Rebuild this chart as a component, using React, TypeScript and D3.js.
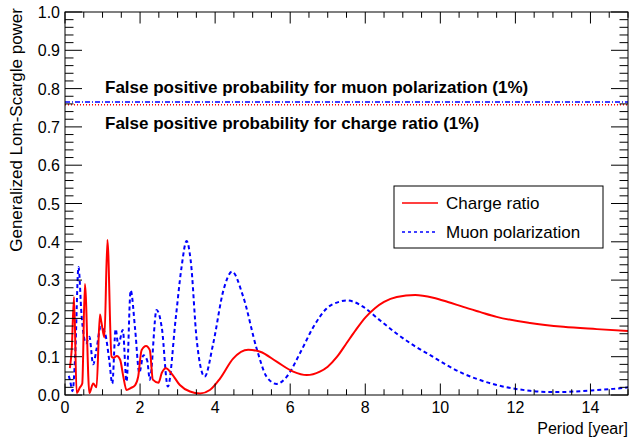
import React from "react";
import * as d3 from "d3";

// ---- data (period in years, generalized Lomb-Scargle power) ----
const chargePeriod = [0.13, 0.18, 0.24, 0.31, 0.4, 0.46, 0.53, 0.65, 0.75, 0.84, 0.93, 0.97, 1.05, 1.13, 1.24, 1.29, 1.38, 1.47, 1.55, 1.64, 1.75, 1.87, 1.95, 2.04, 2.16, 2.26, 2.34, 2.49, 2.58, 2.69, 2.84, 3.06, 3.33, 3.6, 3.86, 4.13, 4.48, 4.88, 5.2, 5.64, 6.08, 6.44, 6.79, 7.0, 7.25, 7.5, 7.75, 8.0, 8.25, 8.5, 8.84, 9.33, 9.81, 10.2, 10.61, 11.05, 11.5, 12.39, 13.28, 14.17, 15.0];
const chargePower = [0.07, 0.12, 0.256, 0.005, 0.02, 0.03, 0.29, 0.005, 0.03, 0.02, 0.21, 0.19, 0.15, 0.405, 0.1, 0.097, 0.102, 0.092, 0.05, 0.013, 0.018, 0.026, 0.048, 0.117, 0.128, 0.117, 0.04, 0.032, 0.058, 0.07, 0.056, 0.026, 0.009, 0.004, 0.013, 0.043, 0.095, 0.118, 0.113, 0.087, 0.061, 0.052, 0.061, 0.074, 0.1, 0.135, 0.17, 0.202, 0.226, 0.243, 0.256, 0.261, 0.254, 0.243, 0.23, 0.217, 0.204, 0.188, 0.178, 0.172, 0.167];

const muonPeriod = [0.1, 0.13, 0.2, 0.27, 0.36, 0.44, 0.56, 0.65, 0.75, 0.84, 0.95, 1.07, 1.18, 1.26, 1.35, 1.42, 1.54, 1.64, 1.75, 1.87, 1.98, 2.09, 2.19, 2.26, 2.44, 2.58, 2.74, 2.95, 3.1, 3.24, 3.35, 3.51, 3.72, 3.95, 4.22, 4.45, 4.75, 5.11, 5.37, 5.64, 5.91, 6.26, 6.62, 6.97, 7.33, 7.5, 7.7, 7.95, 8.39, 8.84, 9.28, 9.73, 10.17, 10.61, 11.06, 11.5, 11.95, 12.39, 12.83, 13.28, 13.72, 14.17, 14.61, 15.0];
const muonPower = [0.05, 0.04, 0.01, 0.1, 0.334, 0.21, 0.135, 0.152, 0.08, 0.12, 0.178, 0.16, 0.09, 0.03, 0.172, 0.13, 0.17, 0.035, 0.273, 0.17, 0.058, 0.104, 0.09, 0.04, 0.222, 0.175, 0.022, 0.2, 0.33, 0.402, 0.35, 0.143, 0.048, 0.135, 0.273, 0.322, 0.256, 0.12, 0.048, 0.029, 0.048, 0.109, 0.178, 0.226, 0.244, 0.247, 0.243, 0.23, 0.195, 0.16, 0.13, 0.104, 0.078, 0.056, 0.039, 0.026, 0.017, 0.011, 0.008, 0.008, 0.01, 0.013, 0.016, 0.02];

const fppMuon = 0.765;
const fppCharge = 0.758;

const xMajorTicks = [0, 2, 4, 6, 8, 10, 12, 14];
const yMajorTicks = [0.0, 0.1, 0.2, 0.3, 0.4, 0.5, 0.6, 0.7, 0.8, 0.9, 1.0];

const seriesNames = ["Charge ratio", "Muon polarization"];
const fppLabels = [
  "False positive probability for muon polarization (1%)",
  "False positive probability for charge ratio (1%)",
];
const xTitle = "Period [year]";
const yTitle = "Generalized Lom-Scargle power";

const W = 630;
const H = 441;
const L = 65;
const R = 628;
const T = 12;
const B = 395;

export default function App() {
  const x = d3.scaleLinear().domain([0, 15]).range([L, R]);
  const y = d3.scaleLinear().domain([0, 1]).range([B, T]);

  const line = d3
    .line<[number, number]>()
    .x((d) => x(d[0]))
    .y((d) => y(d[1]))
    .curve(d3.curveMonotoneX);

  const charge = chargePeriod.map((p, i) => [p, chargePower[i]] as [number, number]);
  const muon = muonPeriod.map((p, i) => [p, muonPower[i]] as [number, number]);

  const xMinor = d3.range(0, 15.001, 0.5);
  const yMinor = d3.range(0, 1.0001, 0.02);
  const font = "'Liberation Sans', Arial, Helvetica, sans-serif";
  const xMajLen = 11.5;
  const yMajLen = 17;

  return (
    <svg
      width={W}
      height={H}
      style={{ position: "absolute", left: 0, top: 0, background: "#fff" }}
      fontFamily={font}
    >
      <rect x={0} y={0} width={W} height={H} fill="#fff" />
      <defs>
        <clipPath id="frameClip">
          <rect x={L} y={T} width={R - L} height={B - T} />
        </clipPath>
      </defs>

      {/* FPP lines */}
      <line
        x1={x(0)}
        x2={x(15)}
        y1={y(fppMuon)}
        y2={y(fppMuon)}
        stroke="#0000ff"
        strokeWidth={1.5}
        strokeDasharray="5,2,1,2"
      />
      <line
        x1={x(0)}
        x2={x(15)}
        y1={y(fppCharge)}
        y2={y(fppCharge)}
        stroke="#ff0000"
        strokeWidth={1.5}
        strokeDasharray="1,2"
      />
      <text x={105} y={93} fontSize={17} fontWeight="bold" fill="#000">
        {fppLabels[0]}
      </text>
      <text x={105} y={128.5} fontSize={17} fontWeight="bold" fill="#000">
        {fppLabels[1]}
      </text>

      {/* curves */}
      <g clipPath="url(#frameClip)">
        <path d={line(muon) || ""} fill="none" stroke="#0000ff" strokeWidth={2} strokeDasharray="4,3" />
        <path d={line(charge) || ""} fill="none" stroke="#ff0000" strokeWidth={2} />
      </g>

      {/* frame */}
      <rect x={L} y={T} width={R - L} height={B - T} fill="none" stroke="#000" strokeWidth={1} />

      {/* x ticks */}
      {xMinor.map((v) => {
        const major = Math.abs(v / 2 - Math.round(v / 2)) < 1e-6;
        const len = major ? xMajLen : xMajLen / 2;
        return (
          <g key={"xt" + v}>
            <line x1={x(v)} x2={x(v)} y1={B} y2={B - len} stroke="#000" />
            <line x1={x(v)} x2={x(v)} y1={T} y2={T + len} stroke="#000" />
          </g>
        );
      })}
      {/* y ticks */}
      {yMinor.map((v, i) => {
        const major = i % 5 === 0;
        const len = major ? yMajLen : yMajLen / 2;
        return (
          <g key={"yt" + i}>
            <line x1={L} x2={L + len} y1={y(v)} y2={y(v)} stroke="#000" />
            <line x1={R} x2={R - len} y1={y(v)} y2={y(v)} stroke="#000" />
          </g>
        );
      })}

      {/* tick labels */}
      {xMajorTicks.map((v) => (
        <text key={"xl" + v} x={x(v)} y={413} fontSize={16} textAnchor="middle" fill="#000">
          {v}
        </text>
      ))}
      {yMajorTicks.map((v) => (
        <text key={"yl" + v} x={60} y={y(v) + 6} fontSize={16} textAnchor="end" fill="#000">
          {v.toFixed(1)}
        </text>
      ))}

      {/* axis titles */}
      <text x={R} y={434} fontSize={16} textAnchor="end" fill="#000">
        {xTitle}
      </text>
      <text
        transform={`translate(22, ${T - 4}) rotate(-90)`}
        fontSize={17}
        textAnchor="end"
        fill="#000"
      >
        {yTitle}
      </text>

      {/* legend */}
      <rect x={394} y={186} width={209} height={62} fill="#fff" stroke="#000" strokeWidth={1} />
      <line x1={402} x2={438} y1={203} y2={203} stroke="#ff0000" strokeWidth={1.5} />
      <text x={446} y={209} fontSize={17} fill="#000">
        {seriesNames[0]}
      </text>
      <line x1={402} x2={438} y1={232} y2={232} stroke="#0000ff" strokeWidth={1.5} strokeDasharray="3,3" />
      <text x={446} y={238} fontSize={17} fill="#000">
        {seriesNames[1]}
      </text>
    </svg>
  );
}
